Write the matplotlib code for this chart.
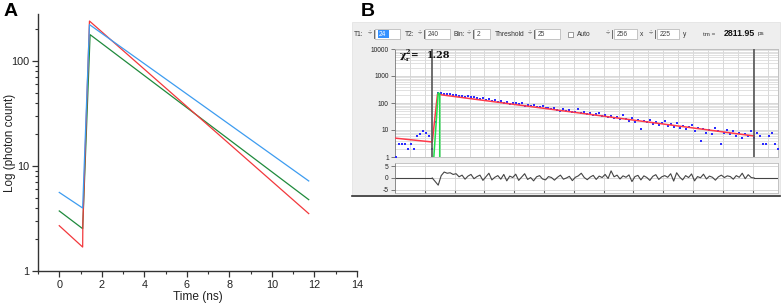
import numpy as np
import matplotlib
matplotlib.use("Agg")
import matplotlib.pyplot as plt
from matplotlib.patches import Rectangle
from matplotlib.lines import Line2D
from matplotlib.ticker import LogLocator, NullFormatter, FixedLocator

plt.rcParams['font.family'] = ['Liberation Sans', 'DejaVu Sans']
plt.rcParams['axes.unicode_minus'] = False

# ---------------- Panel A data ----------------
time_blue = [0, 1.10, 1.42, 11.73]
counts_blue = [5.6, 3.98, 222, 7.2]
time_green = [0, 1.10, 1.45, 11.73]
counts_green = [3.73, 2.53, 178, 4.78]
time_red = [0, 1.10, 1.11, 1.42, 11.73]
counts_red = [2.70, 1.69, 2.9, 240, 3.52]
xticks_a = [0, 2, 4, 6, 8, 10, 12, 14]
yticks_a = [1, 10, 100]

# ---------------- Panel B data ----------------
# photon counts per 2-channel step (channel 0, 2, 4, ...)
decay_counts = [1, 3, 3, 3, 2, 3, 2, 6, 7, 9, 8, 6, 2, 20,
                229, 236, 222, 215, 210, 200, 192, 178, 185, 170, 176, 160, 165, 150,
                146, 155, 128, 135, 120, 126, 112, 118, 104, 110, 92, 100, 96, 88,
                98, 80, 84, 76, 82, 72, 70, 78, 64, 66, 60, 68, 56, 52, 58, 50,
                54, 45, 48, 60, 42, 46, 40, 44, 36, 38, 42, 32, 35, 30, 34, 28,
                31, 26, 36, 25, 22, 27, 20, 24, 11, 22, 19, 24, 17, 20, 15, 18,
                21, 14, 16, 13, 18, 12, 14, 11, 13, 15, 9, 12, 4, 11, 8, 10,
                7, 12, 9, 3, 8, 10, 7, 9, 6, 8, 5, 7, 6, 9, 5,
                8, 6, 3, 3, 6, 8, 3, 2]
fit_channels = [-1, 24, 27.5, 240]
fit_counts = [5.0, 3.6, 210, 6.0]
irf_channels = [25, 28, 29, 29]
irf_counts = [0.9, 240, 220, 0.9]
residuals = [0, -1.5, -3, 1, 2.5, 2, 2.2, 1.5, 1.8, 0.5, 1.2, -0.5, 0.8, 1.5, -0.3,
             0.6, 1.2, -1, 0.5, 2, -0.8, 0.3, 1.0, -0.5, 1.5, -1.2, 0.8, 0.2, 1.6,
             -1, 0.4, 1.8, -0.6, 0.2, -1.2, 0.5, 1.0, -0.4, -0.8, 0.6, 0.2, -0.9,
             0.3, 1.2, -0.5, 0.0, 0.7, -1.1, 0.3, 0.9, 2.0, 0.2, -0.7, 0.4, 1.1,
             -0.6, 0.8, 0.2, 1.5, -0.2, 3.0, 0.5, 1.2, -0.4, 0.9, 0.3, 1.3, -1.5,
             0.6, 1.1, -0.8, 0.9, 0.2, -1.0, 0.7, 1.4, -0.6, 0.5, 1.0, 0.3, 1.8,
             -1.3, 2.2, 0.4, -0.8, 1.0, 0.2, 1.7, -1.2, 0.6, 0.1, 1.6, -0.4, 0.8,
             0.3, -0.9, 0.5, 1.2, 0.2, 0.9, 0.6, -0.5, 1.0, 0.3, 2.0, -0.3, 1.4, 0.2, 0]
t1_channel = 24
t2_channel = 240
chi2_text = "1.28"
tm_text = "2811.95"

W, H = 782, 307
fig = plt.figure(figsize=(W / 100, H / 100), dpi=100)
fig.patch.set_facecolor('white')


def fx(x):
    return x / W


def fy(y):
    return 1 - y / H


def box(x0, y0, x1, y1):
    return [fx(x0), fy(y1), fx(x1) - fx(x0), fy(y0) - fy(y1)]


# ---------------- Panel A ----------------
axA = fig.add_axes(box(38, 14, 357, 271))
axA.plot(time_green, counts_green, color='#1f8a3c', lw=0.9)
axA.plot(time_red, counts_red, color='#f2383c', lw=0.9)
axA.plot(time_blue, counts_blue, color='#3d9cf0', lw=0.9)
axA.set_yscale('log')
axA.set_xlim(-1, 14)
axA.set_ylim(1, 280)
axA.set_xticks(xticks_a)
axA.set_xticks(np.arange(-1, 14, 2), minor=True)
axA.yaxis.set_major_locator(FixedLocator(yticks_a))
axA.yaxis.set_major_formatter(matplotlib.ticker.FuncFormatter(lambda v, p: f"{v:g}"))
axA.yaxis.set_minor_locator(LogLocator(base=10, subs=np.arange(2, 10)))
axA.yaxis.set_minor_formatter(NullFormatter())
for s in ['top', 'right']:
    axA.spines[s].set_visible(False)
for s in ['left', 'bottom']:
    axA.spines[s].set_color('#333333')
    axA.spines[s].set_linewidth(1.0)
axA.tick_params(which='major', length=4, width=0.9, color='#333333', labelsize=7.8,
                labelcolor='#222222', pad=2.5)
axA.tick_params(which='minor', length=2.5, width=0.8, color='#333333')
axA.set_xlabel('Time (ns)', fontsize=8.6, color='#222222', labelpad=1)
axA.set_ylabel('Log (photon count)', fontsize=8.4, color='#222222')
axA.yaxis.set_label_coords(-0.069, 0.5)

fig.text(fx(4), fy(3), 'A', fontsize=14, fontweight='bold', va='top', ha='left')
fig.text(fx(361), fy(3), 'B', fontsize=14, fontweight='bold', va='top', ha='left')

# ---------------- Panel B (software window) ----------------
fig.patches.append(Rectangle((fx(352), fy(196)), fx(780) - fx(352), fy(22) - fy(196),
                             transform=fig.transFigure, facecolor='#eeeeee',
                             edgecolor='#e0e0e0', lw=0.5, zorder=0))

tb_y = 34
txt_kw = dict(fontsize=4.8, color='#333333', va='center', ha='left')


def label(x, s, **kw):
    d = dict(txt_kw)
    d.update(kw)
    fig.text(fx(x), fy(tb_y), s, **d)


def spinner(x):
    fig.text(fx(x + 4), fy(tb_y), '÷', fontsize=5.5, color='#444444', va='center', ha='center')
    fig.lines.append(Line2D([fx(x + 8), fx(x + 8)], [fy(tb_y - 4), fy(tb_y + 4)],
                            transform=fig.transFigure, color='#555555', lw=0.6))


def inbox(x0, x1, s, highlight=False):
    fig.patches.append(Rectangle((fx(x0), fy(tb_y + 4.5)), fx(x1) - fx(x0), fy(tb_y - 4.5) - fy(tb_y + 4.5),
                                 transform=fig.transFigure, facecolor='white',
                                 edgecolor='#b0b0b0', lw=0.5, zorder=1))
    if highlight:
        fig.patches.append(Rectangle((fx(x0 + 3), fy(tb_y + 3.5)), fx(11), fy(0) - fy(7),
                                     transform=fig.transFigure, facecolor='#3390ff',
                                     edgecolor='none', zorder=2))
        fig.text(fx(x0 + 4), fy(tb_y), s, fontsize=4.8, color='white', va='center', ha='left',
                 zorder=3)
    else:
        fig.text(fx(x0 + 3), fy(tb_y), s, fontsize=4.8, color='#444444', va='center', ha='left')


label(354, 'T1:')
spinner(366)
inbox(375, 400, '24', highlight=True)
label(405, 'T2:')
spinner(416)
inbox(425, 450, '240')
label(453, 'Bin:')
spinner(465)
inbox(474, 490, '2')
label(495, 'Threshold')
spinner(526)
inbox(535, 560, '25')
fig.patches.append(Rectangle((fx(568), fy(tb_y + 2.5)), fx(5), fy(0) - fy(5),
                             transform=fig.transFigure, facecolor='white',
                             edgecolor='#777777', lw=0.5, zorder=1))
label(577, 'Auto')
spinner(604)
inbox(614, 637, '256')
label(640, 'x')
spinner(647)
inbox(657, 679, '225')
label(683, 'y')
label(703, 'tm =', fontsize=4.5)
label(724, tm_text, fontsize=6.3, fontweight='bold', color='#111111')
label(758, 'ps', fontsize=4.5)

# main decay plot
axB = fig.add_axes(box(395, 49, 778, 157))
axB.set_zorder(10)
axB.set_facecolor('white')
chans = np.arange(0, 2 * len(decay_counts), 2)
axB.set_yscale('log')
axB.set_xlim(-1, 256)
axB.set_ylim(1, 10000)
axB.set_xticks(np.arange(9, 256, 10))
axB.yaxis.set_major_locator(FixedLocator([1, 10, 100, 1000, 10000]))
axB.yaxis.set_major_formatter(matplotlib.ticker.FuncFormatter(lambda v, p: f"{v:g}"))
axB.yaxis.set_minor_locator(LogLocator(base=10, subs=np.arange(2, 10)))
axB.yaxis.set_minor_formatter(NullFormatter())
axB.grid(True, which='major', color='#d2d2d2', lw=0.6)
axB.grid(True, which='minor', axis='y', color='#dcdcdc', lw=0.6)
axB.tick_params(axis='x', length=0, labelbottom=False)
axB.tick_params(axis='y', which='major', length=3, width=0.6, labelsize=4.8,
                labelcolor='#222222', pad=1.5, color='#666666')
axB.tick_params(axis='y', which='minor', length=0)
for s in axB.spines.values():
    s.set_color('#bbbbbb')
    s.set_linewidth(0.6)
axB.spines['left'].set_color('#777777')
axB.scatter(chans, decay_counts, s=1.6, marker='s', color='#2b2bff', linewidths=0, zorder=3)
axB.plot(fit_channels, fit_counts, color='#ff3a4a', lw=1.1, zorder=4)
axB.plot(irf_channels, irf_counts, color='#22e04a', lw=1.1, zorder=4)
axB.axvline(t1_channel, color='#555555', lw=1.2, zorder=5)
axB.axvline(t2_channel, color='#555555', lw=1.2, zorder=5)
serif_bold = dict(fontfamily='DejaVu Serif', fontweight='bold', color='#111111', zorder=6,
                  transform=fig.transFigure)
axB.text(fx(400), fy(56), 'χ', fontsize=7.5, va='center', ha='left', **serif_bold)
axB.text(fx(405.5), fy(52), '2', fontsize=4.8, va='center', ha='left', **serif_bold)
axB.text(fx(405.5), fy(59.5), 'r', fontsize=4.5, va='center', ha='left', **serif_bold)
axB.text(fx(411), fy(55.5), '=', fontsize=6.5, va='center', ha='left', **serif_bold)
axB.text(fx(427), fy(55.5), chi2_text, fontsize=7, va='center', ha='left', **serif_bold)

# residuals
axR = fig.add_axes(box(395, 163, 778, 193))
axR.set_zorder(10)
axR.set_facecolor('white')
res_ch = np.arange(t1_channel, t1_channel + 2 * len(residuals), 2)
axR.plot([-1, t1_channel], [0, 0], color='#444444', lw=0.8)
axR.plot(res_ch, residuals, color='#444444', lw=0.8)
axR.plot([res_ch[-1], 256], [0, 0], color='#444444', lw=0.8)
axR.set_xlim(-1, 256)
axR.set_ylim(-6.3, 6.3)
axR.set_xticks(np.arange(19, 256, 20))
axR.set_yticks([-5, 0, 5])
axR.grid(True, color='#d2d2d2', lw=0.6)
axR.tick_params(axis='x', length=2, color='#666666', labelbottom=False, direction='in')
axR.tick_params(axis='y', length=3, width=0.6, labelsize=4.8, labelcolor='#222222',
                pad=1.5, color='#666666')
for s in axR.spines.values():
    s.set_color('#bbbbbb')
    s.set_linewidth(0.6)
axR.spines['left'].set_color('#777777')

fig.lines.append(Line2D([fx(352), fx(780)], [fy(195.5), fy(195.5)],
                        transform=fig.transFigure, color='#333333', lw=1.2))

fig.savefig('out.png', dpi=100)
